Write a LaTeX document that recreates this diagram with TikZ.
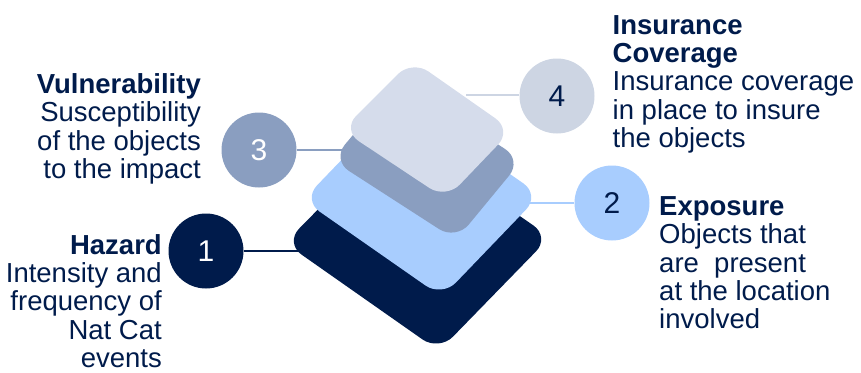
\documentclass[tikz,border=0pt]{standalone}
\usepackage{fontspec}
\setmainfont{Liberation Sans}
\usepackage{xcolor}
\usepackage{tikz}
\definecolor{lynavy}{RGB}{0,27,75}
\definecolor{lyblue}{RGB}{168,205,254}
\definecolor{lyslate}{RGB}{138,158,192}
\definecolor{lymist}{RGB}{213,220,235}
\definecolor{lyfour}{RGB}{205,213,227}

\begin{document}
\begin{tikzpicture}[
  x=1pt, y=-1pt,
  num/.style={circle, minimum size=75pt, inner sep=0pt, font=\fontsize{30}{32}\selectfont},
  txt/.style={inner sep=0pt, text=lynavy, font=\fontsize{27.5}{28.3}\selectfont},
  link/.style={line width=1.5pt},
  layer/.style={rounded corners=20pt},
]
\useasboundingbox (0,0) rectangle (861,372);

% ============ numbered circles ============
\node[num, fill=lynavy, text=white] (hazard) at (206,251) {1};
\node[num, fill=lyblue, text=lynavy] (exposure) at (612,203) {2};
\node[num, fill=lyslate, text=white] (vuln) at (259,150) {3};
\node[num, fill=lyfour, text=lynavy] (insur) at (557,96) {4};

% ============ connector ends at the layers ============
\coordinate (hazardend) at (310,251);
\coordinate (exposureend) at (522,203);
\coordinate (vulnend) at (365,150);
\coordinate (insurend) at (466,95);

% ===================== CONNECTORS =====================
\draw[link, lynavy] (hazard.east) -- (hazardend);
\draw[link, lyblue] (exposure.west) -- (exposureend);
\draw[link, lyslate] (vuln.east) -- (vulnend);
\draw[link, lyfour] (insur.west |- insurend) -- (insurend);

% ============ stacked layers (bottom to top) ============
\fill[layer, lynavy] (285,243) -- (396,130) -- (550,237) -- (439,351) -- cycle;
\fill[layer, lyblue] (303,200) -- (401,98) -- (540,195) -- (442,297) -- cycle;
\fill[layer, lyslate] (332,160) -- (399,80) -- (522,160) -- (456,240) -- cycle;
\fill[layer, lymist] (342,130) -- (412,60) -- (512,130) -- (446,199) -- cycle;

% ============ texts ============
\node[txt, anchor=north west, align=left] (insurtxt) at (612.5,15)
  {\textbf{Insurance}\\\textbf{Coverage}\\Insurance coverage\\in place to insure\\the objects};
\node[txt, anchor=north west, align=left] (exposuretxt) at (659,196.5)
  {\textbf{Exposure}\\Objects that\\are\ \ present\\at the location\\involved};
\node[txt, anchor=north east, align=right] (vulntxt) at (201,73.5)
  {\textbf{Vulnerability}\\Susceptibility\\of the objects\\to the impact};
\node[txt, anchor=north east, align=right] (hazardtxt) at (162,234)
  {\textbf{Hazard}\\Intensity and\\frequency of\\Nat Cat\\events};

\end{tikzpicture}
\end{document}
